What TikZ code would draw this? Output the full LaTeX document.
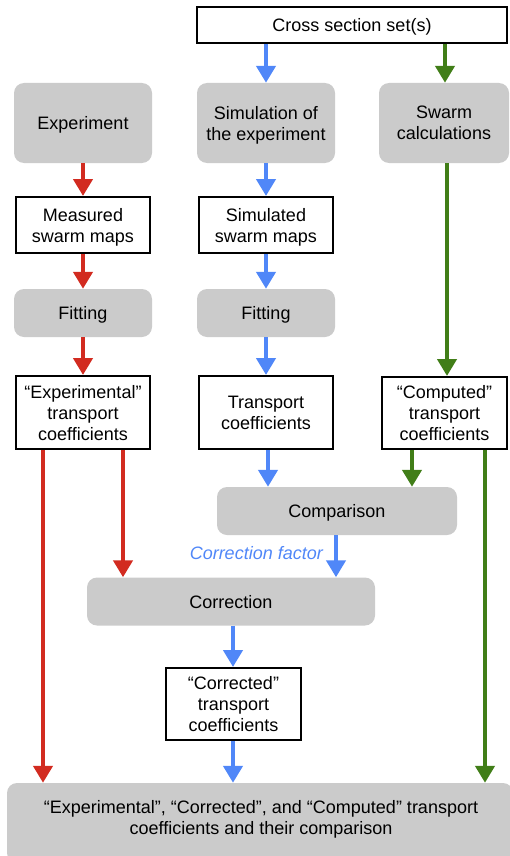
\documentclass[tikz,border=0pt]{standalone}
\usepackage{fontspec}
\setmainfont{Liberation Sans}
\usetikzlibrary{arrows.meta}
\definecolor{boxgray}{HTML}{CBCBCB}
\definecolor{cred}{HTML}{D22B20}
\definecolor{cblue}{HTML}{5087F8}
\definecolor{cgreen}{HTML}{417E18}
\tikzset{
  txt/.style={font=\fontsize{18}{21}\selectfont},
  graybox/.style={txt, fill=boxgray, draw=none, rounded corners=10pt, align=center, inner sep=0pt, text depth=0pt},
  whitebox/.style={txt, fill=white, draw=black, line width=2pt, align=center, inner sep=0pt, text depth=0pt},
  arr/.style={line width=4.7pt, -{Triangle[width=19pt,length=17pt]}},
  arrR/.style={arr, draw=cred},
  arrB/.style={arr, draw=cblue},
  arrG/.style={arr, draw=cgreen},
}
\begin{document}
\begin{tikzpicture}[x=1pt,y=-1pt]
\useasboundingbox (0,0) rectangle (510,856);
\node[whitebox, minimum width=310pt, minimum height=36pt] (cross) at (352,25) {Cross section set(s)};
\node[graybox, minimum width=138pt, minimum height=80pt] (exp) at (83,123) {Experiment};
\node[graybox, minimum width=138pt, minimum height=80pt] (sim) at (266,123) {Simulation of\\the experiment};
\node[graybox, minimum width=130pt, minimum height=80pt] (swarm) at (444,123) {Swarm\\calculations};
\node[whitebox, minimum width=134pt, minimum height=56pt] (meas) at (83,225) {Measured\\swarm maps};
\node[whitebox, minimum width=134pt, minimum height=56pt] (simmaps) at (266,225) {Simulated\\swarm maps};
\node[graybox, minimum width=138pt, minimum height=48pt] (fitL) at (83,313) {Fitting};
\node[graybox, minimum width=138pt, minimum height=48pt] (fitM) at (266,313) {Fitting};
\node[whitebox, minimum width=134pt, minimum height=73pt] (exptc) at (83,412.5) {“Experimental”\\transport\\coefficients};
\node[whitebox, minimum width=134pt, minimum height=73pt] (tc) at (266,412.5) {Transport\\coefficients};
\node[whitebox, minimum width=125pt, minimum height=72pt] (comptc) at (444.5,413) {“Computed”\\transport\\coefficients};
\node[graybox, minimum width=240pt, minimum height=48pt] (cmp) at (337,511) {Comparison};
\node[graybox, minimum width=288pt, minimum height=48pt] (corr) at (231,601.5) {Correction};
\node[whitebox, minimum width=135pt, minimum height=72pt] (corrtc) at (233.5,704) {“Corrected”\\transport\\coefficients};
\node[graybox, minimum width=506pt, minimum height=80pt] (bottom) at (260,823) {};
\node[txt, align=center, inner sep=0pt, text depth=0pt] (bottomtext) at (261,817) {“Experimental”, “Corrected”, and “Computed” transport\\coefficients and their comparison};
\node[anchor=base east, inner sep=0pt, text=cblue, font={\fontsize{18}{21}\selectfont\itshape}] (cf) at (323,559) {Correction factor};
\coordinate (xa) at (43,0);
\coordinate (xb) at (123,0);
\coordinate (xc) at (268,0);
\coordinate (xd) at (412,0);
\coordinate (xe) at (485,0);
\coordinate (xf) at (336,0);
\coordinate (xg) at (233,0);
\coordinate (xh) at (266,0);
\coordinate (xi) at (445,0);
\coordinate (xj) at (447,0);
% blue
\draw[arrB] (cross.south -| xh) -- (sim.north -| xh);
\draw[arrB] (sim) -- (simmaps);
\draw[arrB] (simmaps) -- (fitM);
\draw[arrB] (fitM) -- (tc);
\draw[arrB] (tc.south -| xc) -- (cmp.north -| xc);
\draw[arrB] (cmp.south -| xf) -- (corr.north -| xf);
\draw[arrB] (corr.south -| xg) -- (corrtc.north -| xg);
\draw[arrB] (corrtc.south -| xg) -- (bottom.north -| xg);
% green
\draw[arrG] (cross.south -| xi) -- (swarm.north -| xi);
\draw[arrG] (swarm.south -| xj) -- (comptc.north -| xj);
\draw[arrG] (comptc.south -| xd) -- (cmp.north -| xd);
\draw[arrG] (comptc.south -| xe) -- (bottom.north -| xe);
% red
\draw[arrR] (exp) -- (meas);
\draw[arrR] (meas) -- (fitL);
\draw[arrR] (fitL) -- (exptc);
\draw[arrR] (exptc.south -| xa) -- (bottom.north -| xa);
\draw[arrR] (exptc.south -| xb) -- (corr.north -| xb);
\end{tikzpicture}
\end{document}
